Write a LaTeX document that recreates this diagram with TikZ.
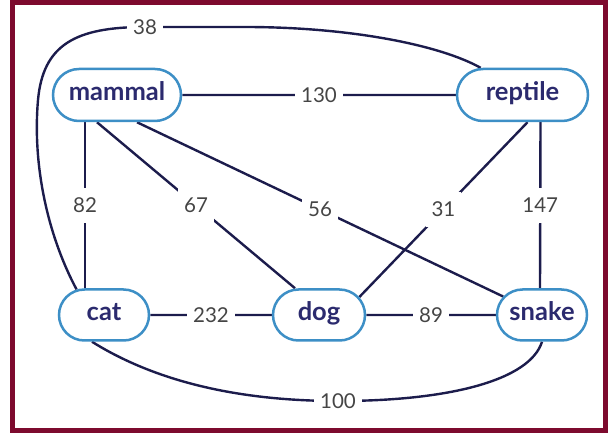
\documentclass[tikz,border=0pt]{standalone}
\usepackage{fontspec}
\setmainfont{Lato}
\usetikzlibrary{shapes.misc}
\pgfdeclarelayer{bg}
\pgfsetlayers{bg,main}
\definecolor{framecol}{HTML}{7D0A2E}
\definecolor{nodeblue}{HTML}{3D8FC6}
\definecolor{nodetext}{HTML}{2B2A6E}
\definecolor{edgecol}{HTML}{1C1C4C}
\definecolor{lblcol}{HTML}{454545}
\begin{document}
\begin{tikzpicture}[x=1pt,y=-1pt,
  animal/.style={shape=rounded rectangle, draw=nodeblue, line width=2.5pt, fill=white,
    minimum height=52pt, text=nodetext, font=\fontsize{25.5}{30}\selectfont\bfseries,
    inner sep=0pt, text height=18pt, text depth=6pt},
  edge/.style={draw=edgecol, line width=2.4pt},
  lbl/.style={fill=white, text=lblcol, font=\fontsize{20.5}{24}\selectfont,
    inner xsep=6pt, inner ysep=10pt}]
\useasboundingbox (0,0) rectangle (613,435);
\draw[framecol, line width=5pt] (12.5,2.5) rectangle (605.5,430.5);
\node[animal, minimum width=128pt] (mammal) at (117,95) {mammal};
\node[animal, minimum width=131pt] (reptile) at (522.5,95) {reptile};
\node[animal, minimum width=90pt, minimum height=51pt] (cat) at (104,315) {cat};
\node[animal, minimum width=92pt, minimum height=51pt] (dog) at (319,315) {dog};
\node[animal, minimum width=90pt, minimum height=51pt] (snake) at (542,315) {snake};
\begin{pgfonlayer}{bg}
\draw[edge] (mammal) -- node[lbl]{130} (reptile);
\draw[edge] ([xshift=-32pt]mammal.south) -- node[lbl]{82} ([xshift=-19pt]cat.north);
\draw[edge] ([xshift=-20pt]mammal.south) -- node[lbl]{67} ([xshift=-24pt]dog.north);
\draw[edge] ([xshift=20pt]mammal.south) -- node[lbl]{56} (snake);
\draw[edge] ([xshift=5pt]reptile.south) -- node[lbl]{31} (dog.24);
\draw[edge] ([xshift=18pt]reptile.south) -- node[lbl]{147} ([xshift=-2pt]snake.north);
\draw[edge] (cat) -- node[lbl]{232} (dog);
\draw[edge] (dog) -- node[lbl]{89} (snake);
\draw[edge] ([xshift=-12pt]cat.south) .. controls (150,378) and (230,401) .. (338,401)
  node[lbl]{100} .. controls (450,401) and (530,380) .. (snake.south);
\draw[edge] (cat.137) .. controls (50,240) and (32,170) .. (38,100)
  .. controls (43,45) and (75,27) .. (145,27) node[lbl]{38}
  -- (245,27) .. controls (350,27) and (440,45) .. (reptile.147);
\end{pgfonlayer}
\end{tikzpicture}
\end{document}
